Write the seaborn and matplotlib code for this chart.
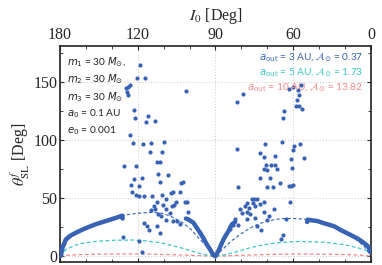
import numpy as np
import pandas as pd
import matplotlib
matplotlib.use("Agg")
import matplotlib.pyplot as plt
import seaborn as sns
from matplotlib.ticker import MultipleLocator, FixedLocator

# ---------------- data (x = cos(I0), y = theta_SL^f in degrees) ----------------
I0_tick_deg = [180, 120, 90, 60, 0]
theta_ticks = [0, 50, 100, 150]

scatter_cos = [-0.483, -0.503, -0.451, -0.552, -0.563, -0.578, -0.570, -0.563, -0.188,
               -0.526, -0.520, -0.432, -0.447, -0.388, -0.548, -0.531, -0.464, -0.416,
               -0.328, -0.421, -0.343, -0.587, -0.509, -0.375, -0.354, -0.369, -0.302,
               -0.475, -0.524, -0.358, -0.541, -0.211, -0.222, -0.537, -0.509, -0.494,
               -0.462, -0.406, -0.274, -0.287, -0.343, -0.229, -0.315, -0.252, -0.268,
               -0.280, -0.337, -0.375, -0.395, -0.412, -0.386, -0.315, -0.293, -0.194,
               -0.181, -0.175, -0.347, -0.369, -0.315, -0.276, -0.250, -0.229, -0.462,
               -0.438, -0.427, -0.375, -0.358, -0.597, -0.492, -0.472, -0.494,
               0.138, 0.177, 0.475, 0.501, 0.533, 0.550, 0.539, 0.526, 0.516, 0.539,
               0.554, 0.438, 0.436, 0.138, 0.321, 0.427, 0.505, 0.544, 0.496, 0.483,
               0.285, 0.311, 0.386, 0.570, 0.328, 0.360, 0.382, 0.311, 0.332, 0.397,
               0.494, 0.289, 0.354, 0.412, 0.475, 0.488, 0.501, 0.145, 0.332, 0.369,
               0.235, 0.250, 0.268, 0.203, 0.188, 0.214, 0.242, 0.257, 0.285, 0.311,
               0.160, 0.171, 0.203, 0.225, 0.311, 0.375, 0.477, 0.255, 0.332, 0.343,
               0.453, 0.268, 0.296, 0.432, 0.421, 0.127, 0.145, 0.203, 0.095, 0.110]
scatter_theta = [164.8, 153.9, 153.9, 147.6, 146.2, 144.8, 141.9, 139.1, 142.5,
                 126.2, 119.0, 120.5, 115.6, 116.5, 104.7, 97.6, 97.0, 97.6,
                 98.4, 89.6, 89.8, 78.1, 78.1, 81.3, 81.0, 71.2, 70.4,
                 67.5, 66.7, 63.8, 61.2, 63.8, 62.7, 55.2, 52.4, 51.8,
                 51.8, 51.8, 55.2, 54.6, 52.4, 55.5, 48.9, 46.6, 44.1,
                 43.2, 44.1, 46.6, 43.2, 39.8, 40.3, 40.3, 37.5, 46.9,
                 46.9, 38.3, 34.6, 36.1, 30.9, 30.3, 30.3, 28.0, 28.9,
                 26.0, 22.6, 26.0, 20.3, 16.3, 13.4, 3.7, 60.4,
                 132.5, 139.6, 143.9, 145.4, 143.3, 147.4, 139.1, 134.8, 129.0, 129.0,
                 127.0, 124.7, 119.0, 92.4, 97.0, 98.1, 95.3, 96.7, 91.8, 83.8,
                 89.0, 85.5, 86.7, 84.7, 79.0, 79.0, 79.0, 75.5, 74.7, 75.5,
                 76.1, 67.5, 67.5, 63.2, 60.9, 60.4, 61.2, 59.8, 59.8, 59.5,
                 48.9, 49.5, 48.9, 46.1, 43.2, 41.8, 46.1, 43.2, 44.6, 46.6,
                 40.3, 37.5, 38.1, 36.6, 38.1, 40.3, 46.6, 33.2, 30.9, 34.6,
                 31.8, 26.0, 22.6, 18.0, 14.6, 31.8, 26.6, 31.8, 23.5, 27.0]

# dense (numerically integrated) branches
dense_left_cos = [-1.0, -0.994, -0.984, -0.962, -0.930, -0.897, -0.855, -0.811, -0.770, -0.725, -0.680, -0.638, -0.599, -0.597]
dense_left_theta = [0.0, 0.5, 7.5, 14.6, 18.0, 20.3, 23.0, 25.5, 27.6, 29.5, 31.4, 33.2, 35.0, 32.5]
dense_mid_cos = [-0.190, -0.175, -0.142, -0.120, -0.099, -0.077, -0.056, -0.034, -0.013, 0.0,
                 0.019, 0.035, 0.052, 0.068, 0.084, 0.095, 0.106, 0.127]
dense_mid_theta = [32.5, 31.8, 28.9, 24.5, 20.3, 15.5, 10.3, 5.8, 0.9, 0.0,
                   4.6, 9.5, 14.6, 18.3, 21.7, 24.8, 27.5, 29.5]
dense_right_cos = [0.590, 0.592, 0.620, 0.656, 0.699, 0.740, 0.764, 0.807, 0.860, 0.915, 0.950, 0.980, 1.0]
dense_right_theta = [29.5, 31.5, 31.0, 30.3, 28.4, 26.8, 25.8, 22.5, 19.0, 15.2, 12.0, 8.8, 3.2]

# analytic curves for three outer semi-major axes
a3_cos = [-1.0, -0.95, -0.90, -0.82, -0.75, -0.68, -0.60, -0.52, -0.45, -0.40, -0.34, -0.29, -0.25, -0.21, -0.16, -0.12, -0.08, -0.05, -0.02, 0.0,
          0.02, 0.05, 0.073, 0.11, 0.16, 0.20, 0.246, 0.29, 0.332, 0.38, 0.419, 0.46, 0.505, 0.55, 0.592, 0.66, 0.74, 0.82, 0.90, 0.96, 1.0]
a3_theta = [0.0, 14.0, 20.0, 25.5, 29.5, 32.5, 35.2, 36.7, 37.6, 37.8, 36.9, 34.6, 31.8, 28.9, 23.5, 17.5, 11.8, 7.6, 3.0, 0.0,
            2.7, 6.5, 9.5, 14.0, 18.9, 22.5, 26.0, 28.4, 30.3, 31.5, 32.3, 32.6, 32.5, 32.2, 31.6, 30.0, 26.9, 22.0, 15.0, 8.0, 0.0]
a5_cos = [-1.0, -0.994, -0.962, -0.90, -0.855, -0.80, -0.746, -0.65, -0.53, -0.45, -0.358, -0.30, -0.228, -0.16, -0.099, -0.05, 0.0,
          0.05, 0.117, 0.17, 0.224, 0.30, 0.375, 0.45, 0.548, 0.60, 0.699, 0.807, 0.87, 0.915, 0.98, 1.0]
a5_theta = [0.0, 0.8, 6.0, 9.5, 11.2, 12.3, 13.1, 13.8, 14.0, 13.3, 11.7, 10.0, 7.5, 4.8, 2.4, 1.0, 0.0,
            1.2, 3.1, 5.2, 7.4, 9.6, 11.2, 12.2, 12.7, 12.6, 12.1, 10.3, 8.7, 7.3, 4.6, 1.7]
a10_cos = [-1.0, -0.96, -0.88, -0.75, -0.60, -0.45, -0.30, -0.15, -0.05, 0.0,
           0.05, 0.15, 0.30, 0.45, 0.60, 0.75, 0.88, 0.96, 1.0]
a10_theta = [0.0, 0.8, 1.4, 1.8, 2.0, 1.9, 1.5, 0.8, 0.3, 0.0,
             0.3, 0.8, 1.4, 1.8, 1.9, 1.7, 1.3, 0.7, 0.0]

legend_lines = [r"$a_{\rm out}$ = 3 AU, $\mathcal{A}_{\odot}$ = 0.37",
                r"$a_{\rm out}$ = 5 AU, $\mathcal{A}_{\odot}$ = 1.73",
                r"$a_{\rm out}$ = 10 AU, $\mathcal{A}_{\odot}$ = 13.82"]
param_lines = [r"$m_1$ = 30 $M_{\odot}$,", r"$m_2$ = 30 $M_{\odot}$", r"$m_3$ = 30 $M_{\odot}$",
               r"$a_0$ = 0.1 AU", r"$e_0$ = 0.001"]

# ---------------- styling ----------------
BLUE = "#3863b4"
CYAN = "#3cc6c6"
PINK = "#f28a8a"

sns.set_style("ticks")
plt.rcParams['font.family'] = ['DejaVu Sans']

fig = plt.figure(figsize=(3.82, 2.65), dpi=100)
ax = fig.add_axes([0.157, 0.011, 0.814, 0.815])

ax.grid(True, which="major", ls=(0, (1, 2)), color="#c8c8c8", lw=0.7, zorder=0)

def curve(xs, ys, color, lw, ls="-", z=2):
    sns.lineplot(x=xs, y=ys, ax=ax, sort=False, estimator=None, color=color,
                 lw=lw, ls=ls, zorder=z)

curve(a10_cos, a10_theta, PINK, 0.9, ls=(0, (3, 2)))
curve(a5_cos, a5_theta, CYAN, 0.9, ls=(0, (3, 2)))
curve(a3_cos, a3_theta, BLUE, 0.8, ls=(0, (3, 2)))
for xs, ys in [(dense_left_cos, dense_left_theta), (dense_mid_cos, dense_mid_theta),
               (dense_right_cos, dense_right_theta)]:
    sns.lineplot(x=xs, y=ys, ax=ax, sort=False, estimator=None, color=BLUE,
                 lw=3.2, zorder=3, solid_capstyle="round")

sns.scatterplot(x=scatter_cos, y=scatter_theta, ax=ax, color=BLUE, s=9,
                linewidth=0, zorder=4)

ax.set_xlim(-1.0, 1.0)
ax.set_ylim(-5, 181)

tick_pos = [float(np.cos(np.radians(d))) for d in I0_tick_deg]
ax.xaxis.set_major_locator(FixedLocator(tick_pos))
ax.set_xticklabels([str(d) for d in I0_tick_deg])
ax.xaxis.set_minor_locator(MultipleLocator(1 / 6))
ax.yaxis.set_major_locator(FixedLocator(theta_ticks))
ax.yaxis.set_minor_locator(MultipleLocator(25))

ax.xaxis.set_label_position("top")
ax.tick_params(axis="x", which="both", top=True, bottom=True, labeltop=True,
               labelbottom=False, direction="in")
ax.tick_params(axis="y", which="both", left=True, right=True, direction="in")
ax.tick_params(which="major", length=3, width=0.8, pad=2)
ax.tick_params(which="minor", length=2, width=0.6)
for lab in ax.get_xticklabels() + ax.get_yticklabels():
    lab.set_fontfamily("Liberation Serif")
    lab.set_fontsize(11.5)

for sp in ax.spines.values():
    sp.set_linewidth(1.2)
    sp.set_color("#222222")

ax.set_xlabel(r"$I_0$ [Deg]", fontsize=11.5, family="Liberation Serif",
              math_fontfamily="stix", labelpad=5)
ax.set_ylabel(r"$\theta^{f}_{\rm SL}$ [Deg]", fontsize=11.5, family="Liberation Serif",
              math_fontfamily="stix", labelpad=1)

for txt, col, yf in zip(legend_lines, [BLUE, CYAN, PINK], [0.950, 0.880, 0.810]):
    ax.text(0.975, yf, txt, transform=ax.transAxes, ha="right", va="center",
            color=col, fontsize=7.3, family="Lato", math_fontfamily="dejavusans", zorder=6)

for txt, yf in zip(param_lines, [0.926, 0.847, 0.766, 0.687, 0.611]):
    ax.text(0.024, yf, txt, transform=ax.transAxes, ha="left", va="center",
            color="#222222", fontsize=7.3, family="Lato", math_fontfamily="dejavusans", zorder=6)

fig.savefig("out.png", dpi=100)
